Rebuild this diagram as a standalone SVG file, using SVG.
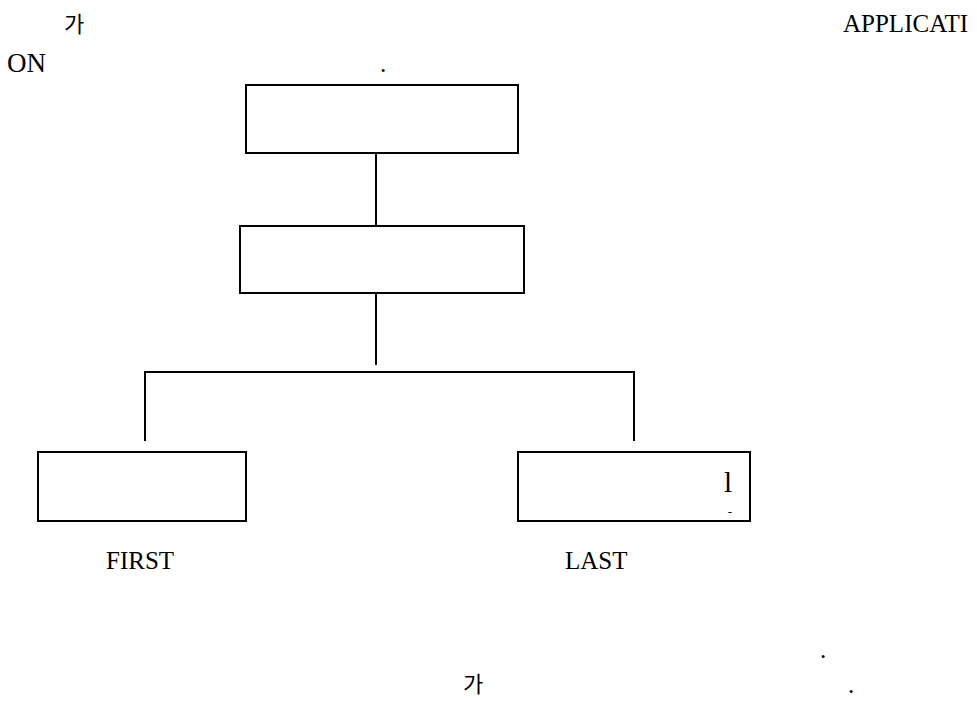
<svg xmlns="http://www.w3.org/2000/svg" width="977" height="701" viewBox="0 0 977 701">
<style>
.box{fill:#fff;stroke:#000;stroke-width:2}
.ln{stroke:#000;stroke-width:2;fill:none}
.t{font-family:"Liberation Serif","Times New Roman",serif;font-size:25px;fill:#000}
.k{font-family:"Noto Sans CJK KR",sans-serif;font-size:22px;fill:#000}
</style>
<rect width="977" height="701" fill="#fff"/>
<text class="k" x="64" y="32">가</text>
<text class="t" x="843" y="32">APPLICATI</text>
<text class="t" x="7" y="72" style="font-size:27px">ON</text>
<text class="t" x="380" y="72">.</text>
<g id="connectors">
<line class="ln" x1="376" y1="153" x2="376" y2="228"/>
<line class="ln" x1="376" y1="293" x2="376" y2="365"/>
<polyline class="ln" points="145,441 145,372 634,372 634,441"/>
</g>
<g id="node1"><rect class="box" x="246" y="85" width="272" height="68"/></g>
<g id="node2"><rect class="box" x="240" y="226" width="284" height="67"/></g>
<g id="node3"><rect class="box" x="38" y="452" width="208" height="69"/></g>
<g id="node4"><rect class="box" x="518" y="452" width="232" height="69"/>
<text class="t" x="728" y="492" style="font-size:29px" text-anchor="middle">l</text>
<text class="t" x="730" y="516" style="font-size:13px" text-anchor="middle">-</text>
</g>
<text class="t" x="106" y="569">FIRST</text>
<text class="t" x="565" y="569">LAST</text>
<text class="t" x="820" y="658">.</text>
<text class="k" x="463" y="692">가</text>
<text class="t" x="848" y="693">.</text>
</svg>
